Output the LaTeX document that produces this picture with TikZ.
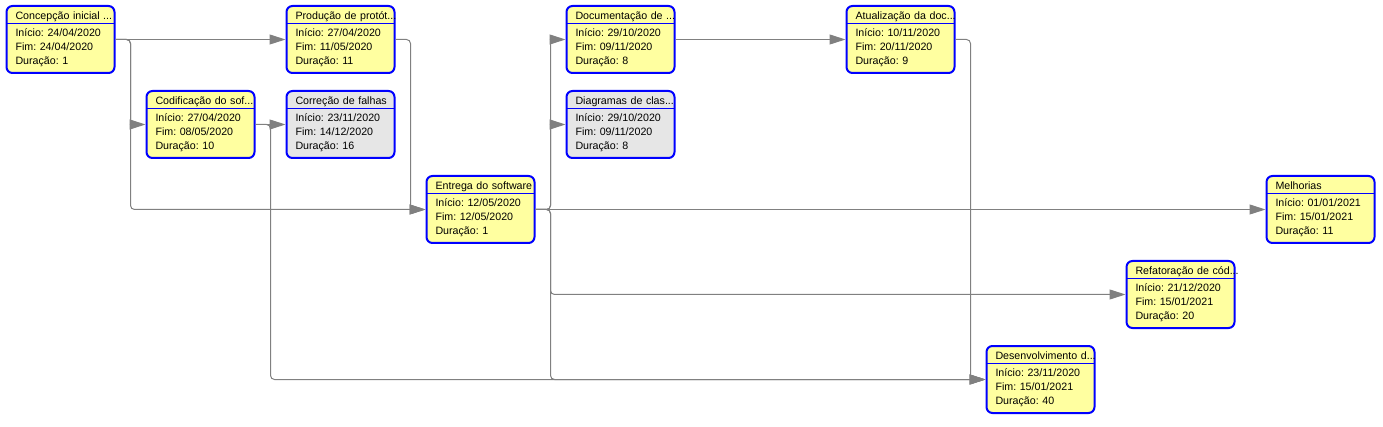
\documentclass[tikz,border=0pt]{standalone}
\usepackage{fontspec}
\setmainfont{Liberation Sans}
\usetikzlibrary{arrows.meta}
\definecolor{amarelo}{RGB}{255,255,160}
\definecolor{cinza}{RGB}{230,230,230}
\definecolor{linha}{RGB}{128,128,128}
\tikzstyle{tarefa} = [rectangle, rounded corners=4.5pt,
                      minimum width=81pt, minimum height=50.25pt,
                      text width=67.5pt, inner xsep=6.75pt, inner ysep=0pt,
                      align=left, draw=blue, fill=amarelo, line width=1.5pt,
                      font=\fontsize{8}{10.5}\selectfont\frenchspacing,
                      path picture={\draw[blue, line width=0.75pt]
                        ([yshift=-13.1pt]path picture bounding box.north west) --
                        ([yshift=-13.1pt]path picture bounding box.north east);}]
\tikzstyle{revisao} = [tarefa, fill=cinza]
\tikzstyle{seta} = [draw=linha, line width=0.75pt, rounded corners=3pt,
                    -{Triangle[length=12pt, width=7.5pt]}]

\begin{document}
\begin{tikzpicture}[x=0.75pt, y=-0.75pt]
    \useasboundingbox (0,0) rectangle (1383,427);

    \node (A) [tarefa] at (60.5,39.5) {\mbox{Concepção inicial ...}\\[2.25pt] Início: 24/04/2020\\ Fim: 24/04/2020\\ Duração: 1};

    \node (B) [tarefa] at (200.5,124.5) {\mbox{Codificação do sof...}\\[2.25pt] Início: 27/04/2020\\ Fim: 08/05/2020\\ Duração: 10};

    \node (C) [tarefa] at (340.5,39.5) {\mbox{Produção de protót...}\\[2.25pt] Início: 27/04/2020\\ Fim: 11/05/2020\\ Duração: 11};

    \node (D) [revisao] at (340.5,124.5) {\mbox{Correção de falhas}\\[2.25pt] Início: 23/11/2020\\ Fim: 14/12/2020\\ Duração: 16};

    \node (E) [tarefa] at (480.5,209.5) {\mbox{Entrega do software}\\[2.25pt] Início: 12/05/2020\\ Fim: 12/05/2020\\ Duração: 1};

    \node (F) [tarefa] at (620.5,39.5) {\mbox{Documentação de ...}\\[2.25pt] Início: 29/10/2020\\ Fim: 09/11/2020\\ Duração: 8};

    \node (G) [revisao] at (620.5,124.5) {\mbox{Diagramas de clas...}\\[2.25pt] Início: 29/10/2020\\ Fim: 09/11/2020\\ Duração: 8};

    \node (H) [tarefa] at (900.5,39.5) {\mbox{Atualização da doc...}\\[2.25pt] Início: 10/11/2020\\ Fim: 20/11/2020\\ Duração: 9};

    \node (K) [tarefa] at (1040.5,379.5) {\mbox{Desenvolvimento d...}\\[2.25pt] Início: 23/11/2020\\ Fim: 15/01/2021\\ Duração: 40};

    \node (J) [tarefa] at (1180.5,294.5) {\mbox{Refatoração de cód...}\\[2.25pt] Início: 21/12/2020\\ Fim: 15/01/2021\\ Duração: 20};

    \node (I) [tarefa] at (1320.5,209.5) {\mbox{Melhorias}\\[2.25pt] Início: 01/01/2021\\ Fim: 15/01/2021\\ Duração: 11};

    \draw [seta] (A.east) -- (C.west);
    \draw [seta] (A.east) -- ++(15,0) |- (B.west);
    \draw [seta] (A.east) -- ++(15,0) |- (E.west);
    \draw [seta] (B.east) -- (D.west);
    \draw [seta] (B.east) -- ++(15,0) |- (K.west);
    \draw [seta] (C.east) -- ++(15,0) |- (E.west);
    \draw [seta] (E.east) -- ++(15,0) |- (F.west);
    \draw [seta] (E.east) -- ++(15,0) |- (G.west);
    \draw [seta] (E.east) -- (I.west);
    \draw [seta] (E.east) -- ++(15,0) |- (J.west);
    \draw [seta] (E.east) -- ++(15,0) |- (K.west);
    \draw [seta] (F.east) -- (H.west);
    \draw [seta] (H.east) -- ++(15,0) |- (K.west);

\end{tikzpicture}
\end{document}
